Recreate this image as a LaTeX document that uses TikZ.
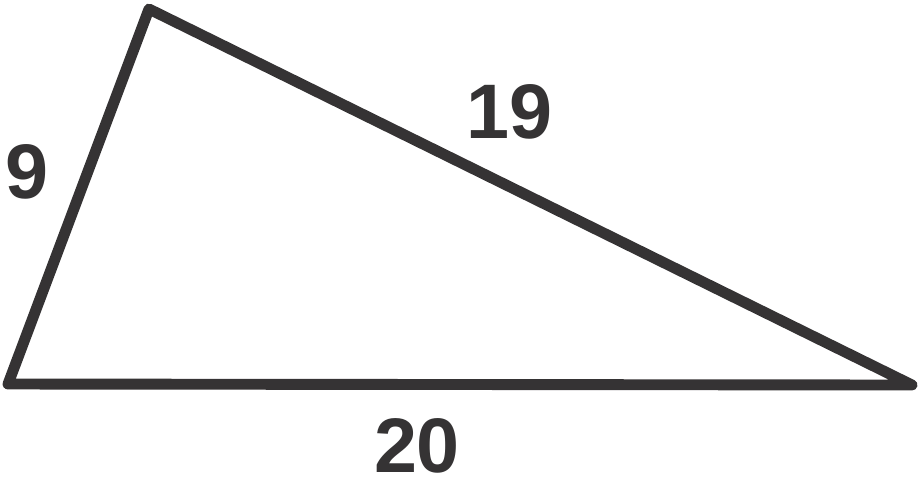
\documentclass[tikz,border=0pt]{standalone}
\usepackage{fontspec}
\setmainfont{Liberation Sans}
\usetikzlibrary{positioning}
\definecolor{edgegray}{RGB}{53,51,52}

\begin{document}
\begin{tikzpicture}[line join=round,line cap=round,
    side/.style={draw=edgegray,line width=3.1pt},
    len node/.style={text=edgegray,font=\fontsize{22}{26}\selectfont\bfseries,inner sep=0pt}]
   \useasboundingbox (0,0) rectangle (9.19,4.81);
   \begin{scope}
      \coordinate (a) at (0.08,0.97);
      \coordinate (b) at (1.49,4.72);
      \coordinate (c) at (9.12,0.96);
      \node[len node] (ab) at (0.27,3.09) {9};
      \node[len node] (bc) at (5.09,3.69) {19};
      \node[len node] (ca) at (4.17,0.35) {20};
      \path[side] (a) -- (b) -- (c) -- cycle;
   \end{scope}
\end{tikzpicture}
\end{document}
